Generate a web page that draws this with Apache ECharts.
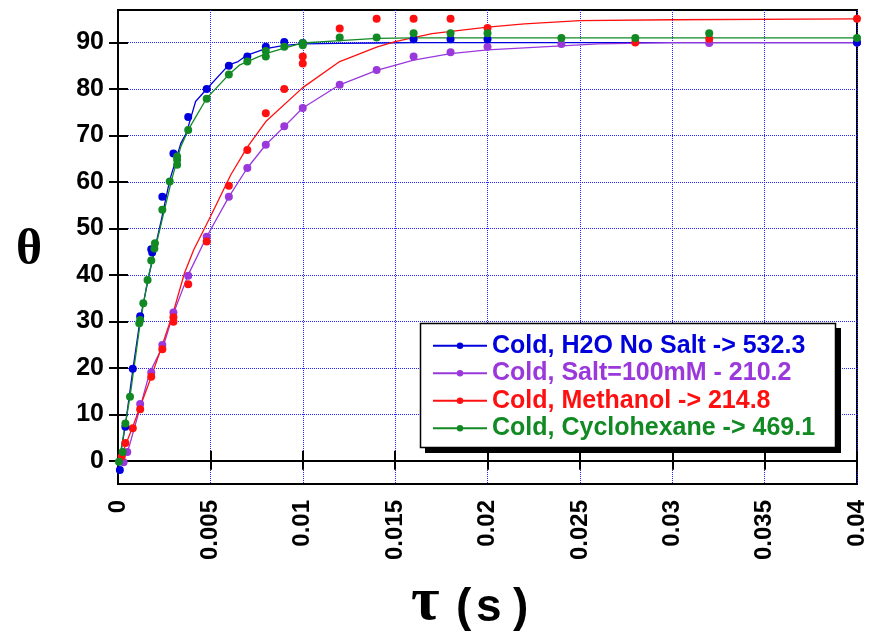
<!DOCTYPE html>
<html><head><meta charset="utf-8">
<script src="https://cdn.jsdelivr.net/npm/echarts@6/dist/echarts.min.js"></script>
<style>html,body{margin:0;padding:0;background:#fff}#c{width:879px;height:638px}</style>
</head><body><div id="c"></div><script>
// ---- series names / colours ----
const names = ['Cold, H2O No Salt -> 532.3', 'Cold, Salt=100mM - 210.2', 'Cold, Methanol -> 214.8', 'Cold, Cyclohexane -> 469.1'];
const colors = ['#0000dd', '#9a38dc', '#ff1010', '#128a24'];

// ---- axis ticks ----
const yTicks = [0, 10, 20, 30, 40, 50, 60, 70, 80, 90];
const xTickLabels = ['0', '0.005', '0.01', '0.015', '0.02', '0.025', '0.03', '0.035', '0.04'];

// ---- measured points (x in s, theta) ----
const blueX = [0.0001, 0.0004, 0.0008, 0.0012, 0.0018, 0.00185, 0.0024, 0.0030, 0.0038, 0.0048, 0.0060, 0.0070, 0.0080, 0.0090, 0.0100, 0.0160, 0.0180, 0.0200, 0.0400];
const blueY = [-2.0, 7.3, 19.8, 31.1, 45.5, 44.8, 56.8, 66.1, 74.0, 80.0, 85.0, 87.0, 89.1, 90.1, 89.9, 90.7, 90.7, 90.7, 90.0];

const purpleX = [0.0003, 0.0005, 0.0012, 0.0018, 0.0024, 0.0030, 0.0038, 0.0048, 0.0060, 0.0070, 0.0080, 0.0090, 0.0100, 0.0120, 0.0140, 0.0160, 0.0180, 0.0200, 0.0240, 0.0320, 0.0400];
const purpleY = [-0.3, 1.9, 12.2, 19.0, 24.9, 31.9, 39.8, 48.2, 56.8, 63.0, 68.0, 72.0, 75.9, 80.9, 84.1, 87.0, 87.9, 89.1, 89.7, 89.9, 90.0];

const redX = [0.0002, 0.0004, 0.0008, 0.0012, 0.0018, 0.0024, 0.0030, 0.0030, 0.0038, 0.0048, 0.0060, 0.0070, 0.0080, 0.0090, 0.0100, 0.0100, 0.0120, 0.0140, 0.0160, 0.0180, 0.0200, 0.0280, 0.0320, 0.0400];
const redY = [0.9, 3.8, 7.0, 11.1, 18.1, 24.0, 30.9, 29.9, 38.0, 47.2, 59.2, 66.9, 74.8, 80.0, 85.5, 87.0, 93.0, 95.1, 95.1, 95.1, 93.1, 90.0, 90.8, 95.1];

const greenX = [0.00005, 0.00025, 0.0004, 0.00065, 0.00115, 0.0012, 0.00137, 0.0016, 0.0018, 0.00197, 0.0020, 0.0024, 0.0028, 0.0032, 0.0032, 0.0032, 0.0038, 0.0048, 0.0060, 0.0070, 0.0080, 0.0080, 0.0090, 0.0100, 0.0100, 0.0120, 0.0140, 0.0160, 0.0180, 0.0200, 0.0240, 0.0280, 0.0320, 0.0400];
const greenY = [-0.2, 1.9, 8.0, 13.8, 29.6, 30.3, 33.9, 38.9, 43.1, 45.7, 46.8, 54.0, 60.1, 63.7, 64.8, 65.5, 71.2, 77.9, 83.1, 85.9, 87.0, 88.2, 89.1, 89.9, 89.4, 91.1, 91.1, 92.0, 92.0, 92.0, 91.0, 91.0, 92.0, 91.0];

// ---- fitted curves ----
const blueFitX = [0, 0.0004, 0.0008, 0.0012, 0.0017, 0.0023, 0.0028, 0.0034, 0.0037, 0.0042, 0.0048, 0.0060, 0.0065, 0.0070, 0.0080, 0.0090, 0.0100, 0.0120, 0.0140, 0.0160, 0.0200, 0.0300, 0.0400];
const blueFitY = [-2.0, 7.7, 19.5, 30.5, 40.3, 51.0, 60.4, 68.3, 70.5, 77.3, 80.0, 85.2, 85.9, 87.3, 88.7, 89.4, 89.7, 89.8, 89.9, 90.0, 90.0, 90.0, 90.0];

const purpleFitX = [0.0002, 0.0006, 0.0012, 0.0017, 0.0025, 0.0030, 0.0038, 0.0048, 0.0060, 0.0070, 0.0080, 0.0090, 0.0100, 0.0120, 0.0140, 0.0160, 0.0180, 0.0200, 0.0240, 0.0260, 0.0300, 0.0400];
const purpleFitY = [-0.5, 3.0, 11.5, 18.8, 25.3, 31.7, 40.0, 48.2, 56.8, 63.0, 68.0, 71.9, 75.9, 80.9, 84.0, 86.2, 87.6, 88.4, 89.3, 89.7, 90.0, 90.0];

const redFitX = [0, 0.0003, 0.0008, 0.0018, 0.0024, 0.0030, 0.0036, 0.0041, 0.0050, 0.0061, 0.0070, 0.0080, 0.0100, 0.0120, 0.0140, 0.0150, 0.0170, 0.0200, 0.0220, 0.0250, 0.0300, 0.0400];
const redFitY = [0.0, 2.3, 7.3, 18.1, 24.9, 32.1, 40.4, 45.4, 52.5, 61.5, 67.5, 73.0, 80.3, 85.9, 89.0, 90.2, 91.9, 93.3, 94.0, 94.7, 94.9, 95.1];

const greenFitX = [0, 0.0001, 0.00065, 0.0012, 0.0016, 0.0023, 0.0029, 0.0034, 0.0038, 0.0048, 0.0060, 0.0066, 0.0070, 0.0080, 0.0090, 0.0100, 0.0120, 0.0140, 0.0160, 0.0200, 0.0300, 0.0400];
const greenFitY = [-1.0, 0.9, 13.8, 29.6, 38.9, 50.4, 60.4, 67.6, 71.2, 78.0, 83.1, 85.2, 85.9, 87.6, 88.8, 89.9, 90.4, 90.9, 91.0, 91.0, 91.0, 91.0];

// ---- build ----
const zip = (xs, ys) => xs.map((x, i) => [x, ys[i]]);
const pts = [zip(blueX, blueY), zip(purpleX, purpleY), zip(redX, redY), zip(greenX, greenY)];
const fits = [zip(blueFitX, blueFitY), zip(purpleFitX, purpleFitY), zip(redFitX, redFitY), zip(greenFitX, greenFitY)];

const FONT = '"Liberation Sans", Arial, sans-serif';
const series = [];
fits.forEach((d, i) => series.push({
  name: names[i], type: 'line', data: d, symbol: 'circle', symbolSize: 7, showSymbol: false,
  lineStyle: { color: colors[i], width: 1.3 }, itemStyle: { color: colors[i] }, z: 2, silent: true, animation: false
}));
[1, 2, 0, 3].forEach(i => series.push({
  name: names[i], type: 'scatter', data: pts[i], symbol: 'circle', symbolSize: 8,
  itemStyle: { color: colors[i], opacity: 1 }, z: 3, animation: false
}));

const chart = echarts.init(document.getElementById('c'), null, { renderer: 'canvas' });
chart.setOption({
  backgroundColor: '#fff',
  animation: false,
  grid: { left: 118, right: 22, top: 10, bottom: 154, show: true, borderColor: '#000', borderWidth: 2, backgroundColor: 'transparent' },
  xAxis: [{
    type: 'value', min: 0, max: 0.04, interval: 0.005,
    axisLine: { lineStyle: { color: '#000', width: 2 } },
    axisTick: { inside: false, length: 9, lineStyle: { color: '#000', width: 2 } },
    axisLabel: { rotate: 90, margin: 16, color: '#000', fontSize: 24, fontWeight: 'bold', fontFamily: FONT,
      formatter: v => xTickLabels[Math.round(v / 0.005)] },
    splitLine: { show: true, lineStyle: { color: '#2222ff', width: 1, type: [1, 1] } }
  }, {
    type: 'value', min: 0, max: 0.04, interval: 0.005, position: 'bottom',
    axisLine: { show: false }, axisLabel: { show: false }, splitLine: { show: false },
    axisTick: { inside: true, length: 10, lineStyle: { color: '#000', width: 2 } }
  }],
  yAxis: [{
    type: 'value', min: -5, max: 97,
    axisLine: { lineStyle: { color: '#000', width: 2 } },
    axisTick: { inside: false, length: 9, customValues: yTicks, lineStyle: { color: '#000', width: 2 } },
    axisLabel: { customValues: yTicks, margin: 14, color: '#000', fontSize: 25, fontWeight: 'bold', fontFamily: FONT },
    splitLine: { show: true, lineStyle: { color: '#2222ff', width: 1, type: [1, 1] } }
  }, {
    type: 'value', min: -5, max: 97, position: 'left',
    axisLine: { show: false }, axisLabel: { show: false }, splitLine: { show: false },
    axisTick: { inside: true, length: 10, customValues: yTicks, lineStyle: { color: '#000', width: 2 } }
  }],
  legend: {
    orient: 'vertical', left: 420, top: 323, z: 10,
    padding: [9, 19, 6, 12], itemGap: 0, itemWidth: 54, itemHeight: 8,
    backgroundColor: 'transparent', borderWidth: 0,
    selectedMode: false,
    textStyle: { fontSize: 25, fontWeight: 'bold', fontFamily: FONT, lineHeight: 27.5 },
    data: names.map((n, i) => ({ name: n, textStyle: { color: colors[i] } }))
  },
  graphic: [
    { type: 'rect', z: 5, shape: { x: 425, y: 328, width: 416, height: 125 }, style: { fill: '#000' } },
    { type: 'rect', z: 6, shape: { x: 420.5, y: 323.5, width: 415, height: 124 }, style: { fill: '#fff', stroke: '#000', lineWidth: 1.5 } },
    { type: 'text', left: 16, top: 226, style: { text: 'θ', font: 'bold 50px "Liberation Serif", serif', fill: '#000' } },
    { type: 'text', left: 411, top: 572, style: { text: 'τ', font: 'bold 62px "Liberation Serif", serif', fill: '#000' } },
    { type: 'text', left: 456, top: 585, style: { text: '(', font: 'bold 46px "Liberation Sans", Arial, sans-serif', fill: '#000' } },
    { type: 'text', left: 476, top: 585, style: { text: 's', font: 'bold 46px "Liberation Sans", Arial, sans-serif', fill: '#000' } },
    { type: 'text', left: 513, top: 585, style: { text: ')', font: 'bold 46px "Liberation Sans", Arial, sans-serif', fill: '#000' } }
  ],
  series: series
});
</script></body></html>
